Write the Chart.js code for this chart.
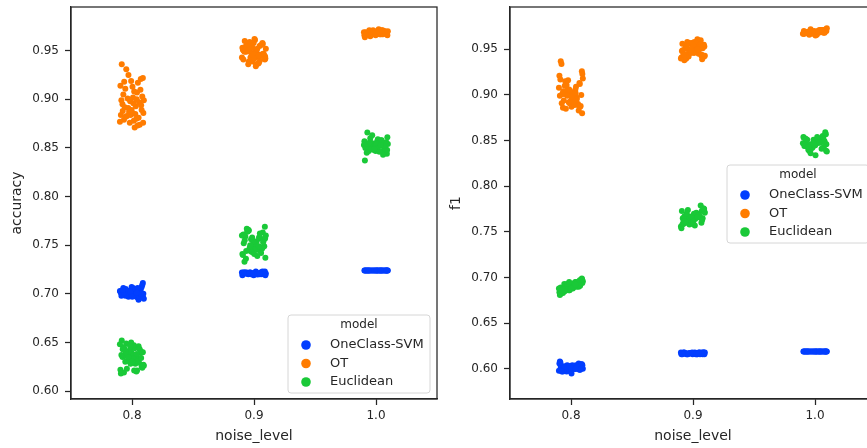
<!DOCTYPE html>
<html>
<head>
<meta charset="utf-8">
<script src="https://cdn.jsdelivr.net/npm/chart.js@4.4.1/dist/chart.umd.min.js"></script>
<style>
  html, body { margin: 0; padding: 0; background: #fff; overflow: hidden; }
  #wrap { position: relative; width: 867px; height: 448px; overflow: hidden; }
  canvas { position: absolute; top: 0; }
  #accChart { left: 0; }
  #f1Chart { left: 439px; }
</style>
</head>
<body>
<div id="wrap">
  <canvas id="accChart" width="440" height="448"></canvas>
  <canvas id="f1Chart" width="440" height="448"></canvas>
</div>
<script>
// categories / legend
const noiseLevels = ['0.8', '0.9', '1.0'];
const models = ['OneClass-SVM', 'OT', 'Euclidean'];
const modelColors = ['#023eff', '#ff7c00', '#1ac938'];
const yTicks = [0.60, 0.65, 0.70, 0.75, 0.80, 0.85, 0.90, 0.95];

// strip-plot jitter (x offset of the i-th run inside its category)
const jitter = [-0.084, 0.031, 0.072, -0.012, -0.095, 0.054, 0.008, -0.047, 0.089, -0.066,
                0.022, -0.029, 0.097, -0.003, 0.041, -0.078, 0.063, -0.055, 0.015, -0.091,
                0.079, -0.036, 0.048, -0.018, 0.093, -0.071, 0.004, 0.036, -0.059, 0.084,
                -0.024, 0.058, -0.099, 0.011, -0.042, 0.069, -0.007, 0.027, -0.087, 0.046,
                -0.064, 0.091, -0.031, 0.018, -0.051, 0.075, -0.015, 0.002, -0.076, 0.038];

// accuracy, one list per noise level (0.8, 0.9, 1.0)
const accSvm = [
  [0.703,0.700,0.705,0.698,0.702,0.694,0.706,0.701,0.711,0.699,0.704,0.697,0.695,0.707,0.702,0.700,0.703,0.698,0.705,0.701,0.707,0.699,0.696,0.703,0.700,0.706,0.702,0.697,0.704,0.709,0.701,0.698,0.703,0.705,0.699,0.702,0.700,0.704,0.698,0.706,0.701,0.696,0.703,0.699,0.705,0.700,0.702,0.697,0.704,0.701],
  [0.721,0.720,0.722,0.721,0.719,0.722,0.721,0.720,0.723,0.721,0.720,0.722,0.721,0.719,0.721,0.722,0.720,0.721,0.723,0.720,0.721,0.722,0.720,0.721,0.719,0.722,0.721,0.720,0.722,0.721,0.720,0.721,0.722,0.720,0.721,0.723,0.721,0.720,0.722,0.721],
  [0.724,0.724,0.724,0.724,0.724,0.724,0.724,0.724,0.724,0.724,0.724,0.724,0.724,0.724,0.724,0.724,0.724,0.724,0.724,0.724,0.724,0.724,0.724,0.724,0.724,0.724,0.724,0.724,0.724,0.724]
];
const accOt = [
  [0.936,0.893,0.921,0.884,0.914,0.881,0.902,0.931,0.922,0.879,0.871,0.925,0.899,0.889,0.907,0.895,0.874,0.911,0.878,0.884,0.889,0.901,0.917,0.876,0.886,0.905,0.913,0.880,0.892,0.903,0.887,0.897,0.877,0.896,0.883,0.910,0.919,0.885,0.899,0.873,0.918,0.876,0.891,0.908,0.882,0.894,0.898,0.886,0.888,0.900],
  [0.950,0.944,0.957,0.939,0.953,0.946,0.961,0.936,0.941,0.955,0.948,0.943,0.952,0.958,0.938,0.949,0.945,0.956,0.934,0.951,0.947,0.959,0.940,0.954,0.942,0.950,0.962,0.937,0.953,0.945,0.948,0.956,0.943,0.951,0.939,0.958,0.946,0.952,0.941,0.955,0.949,0.944,0.957,0.936,0.950,0.947,0.953,0.942,0.960,0.945],
  [0.969,0.967,0.970,0.968,0.966,0.971,0.968,0.965,0.969,0.967,0.972,0.968,0.970,0.966,0.969,0.967,0.968,0.971,0.969,0.964,0.968,0.970,0.967,0.969,0.966,0.968,0.970,0.967,0.969,0.968,0.971,0.967,0.969,0.968,0.966,0.970,0.968,0.969,0.967,0.971]
];
const accEuc = [
  [0.652,0.633,0.641,0.628,0.622,0.646,0.637,0.649,0.640,0.619,0.644,0.631,0.626,0.639,0.621,0.635,0.643,0.630,0.647,0.618,0.625,0.638,0.634,0.642,0.627,0.645,0.632,0.620,0.636,0.624,0.641,0.629,0.648,0.633,0.623,0.639,0.650,0.628,0.637,0.631,0.644,0.626,0.635,0.621,0.640,0.634,0.646,0.630,0.643,0.638],
  [0.752,0.748,0.763,0.745,0.741,0.757,0.750,0.766,0.769,0.736,0.754,0.744,0.760,0.749,0.758,0.733,0.746,0.764,0.751,0.740,0.755,0.747,0.762,0.743,0.737,0.759,0.753,0.745,0.767,0.749,0.756,0.742,0.760,0.751,0.765,0.747,0.754,0.739,0.761,0.748,0.744,0.757,0.750,0.746,0.764,0.753,0.758,0.741,0.755,0.749],
  [0.851,0.855,0.848,0.853,0.857,0.846,0.852,0.860,0.844,0.849,0.856,0.850,0.854,0.847,0.858,0.853,0.845,0.851,0.859,0.837,0.849,0.855,0.852,0.848,0.861,0.866,0.850,0.854,0.847,0.856,0.851,0.843,0.853,0.857,0.849,0.855,0.852,0.846,0.850,0.858,0.854,0.848,0.863,0.851,0.856,0.852,0.849,0.855,0.845,0.853]
];

// f1, one list per noise level (0.8, 0.9, 1.0)
const f1Svm = [
  [0.602,0.600,0.604,0.598,0.606,0.601,0.603,0.599,0.605,0.597,0.601,0.603,0.600,0.598,0.604,0.602,0.606,0.599,0.601,0.608,0.603,0.597,0.600,0.602,0.604,0.599,0.595,0.601,0.603,0.605,0.600,0.602,0.598,0.604,0.601,0.599,0.603,0.600,0.607,0.602,0.598,0.601,0.604,0.600,0.602,0.599,0.603,0.601,0.597,0.600],
  [0.617,0.616,0.618,0.617,0.616,0.618,0.617,0.616,0.618,0.617,0.616,0.617,0.618,0.616,0.617,0.618,0.617,0.616,0.618,0.617,0.616,0.617,0.618,0.617,0.616,0.618,0.617,0.616,0.617,0.618,0.617,0.616,0.618,0.617,0.616,0.617,0.618,0.617,0.616,0.617],
  [0.619,0.619,0.619,0.619,0.619,0.619,0.619,0.619,0.619,0.619,0.619,0.619,0.619,0.619,0.619,0.619,0.619,0.619,0.619,0.619,0.619,0.619,0.619,0.619,0.619,0.619,0.619,0.619,0.619,0.619]
];
const f1Ot = [
  [0.937,0.897,0.912,0.891,0.921,0.889,0.903,0.915,0.926,0.886,0.898,0.905,0.918,0.893,0.909,0.934,0.883,0.901,0.895,0.899,0.888,0.911,0.897,0.892,0.923,0.901,0.887,0.906,0.894,0.900,0.916,0.890,0.908,0.896,0.885,0.913,0.902,0.889,0.917,0.895,0.904,0.880,0.899,0.893,0.910,0.887,0.906,0.898,0.891,0.902],
  [0.949,0.953,0.944,0.957,0.941,0.950,0.946,0.958,0.955,0.939,0.952,0.947,0.943,0.956,0.950,0.945,0.960,0.940,0.954,0.948,0.951,0.942,0.957,0.946,0.953,0.938,0.949,0.961,0.944,0.955,0.947,0.952,0.940,0.958,0.950,0.943,0.954,0.948,0.956,0.945,0.951,0.942,0.957,0.947,0.953,0.939,0.949,0.955,0.944,0.950],
  [0.969,0.968,0.971,0.969,0.967,0.970,0.969,0.966,0.972,0.968,0.970,0.969,0.973,0.967,0.970,0.968,0.971,0.969,0.966,0.970,0.968,0.972,0.969,0.967,0.970,0.968,0.965,0.971,0.969,0.970,0.968,0.971,0.967,0.969,0.970,0.968,0.970,0.969,0.967,0.971]
];
const f1Euc = [
  [0.689,0.692,0.697,0.686,0.684,0.694,0.690,0.688,0.699,0.683,0.693,0.687,0.696,0.691,0.695,0.685,0.690,0.693,0.688,0.681,0.697,0.689,0.692,0.686,0.694,0.684,0.691,0.695,0.687,0.698,0.690,0.693,0.688,0.692,0.689,0.696,0.691,0.694,0.682,0.690,0.687,0.698,0.693,0.689,0.685,0.691,0.695,0.688,0.686,0.692],
  [0.765,0.769,0.773,0.762,0.754,0.767,0.770,0.760,0.775,0.764,0.768,0.758,0.771,0.763,0.766,0.761,0.779,0.769,0.757,0.773,0.765,0.762,0.768,0.759,0.772,0.767,0.764,0.770,0.761,0.776,0.763,0.766,0.756,0.769,0.774,0.760,0.765,0.771,0.758,0.768,0.762,0.775,0.766,0.764,0.770,0.763,0.767,0.761,0.759,0.766],
  [0.846,0.849,0.843,0.851,0.854,0.841,0.847,0.839,0.857,0.845,0.850,0.842,0.838,0.848,0.852,0.844,0.855,0.840,0.847,0.853,0.849,0.836,0.851,0.843,0.846,0.850,0.834,0.848,0.845,0.859,0.842,0.853,0.847,0.849,0.841,0.852,0.845,0.850,0.844,0.848,0.851,0.839,0.846,0.854,0.843,0.849,0.847,0.845,0.852,0.848]
];

const TEXT = '#262626';
const FONT = 'DejaVu Sans';

// points of one model: x = category index + jitter
function stripPoints(perLevel) {
    let pts = [];
    perLevel.forEach((vals, ci) => {
        vals.forEach((v, i) => pts.push({ x: ci + jitter[i], y: v }));
    });
    return pts;
}

// frame round the axes + legend box inside the plot
const framePlugin = {
    id: 'frameAndLegend',
    afterDraw(chart, args, opts) {
        const ctx = chart.ctx;
        const a = chart.chartArea;
        ctx.save();
        ctx.strokeStyle = TEXT;
        ctx.lineWidth = 1.25;
        ctx.strokeRect(a.left, a.top, a.right - a.left, a.bottom - a.top);

        // legend
        const bx = a.left + opts.x, by = a.top + opts.y;
        ctx.beginPath();
        ctx.roundRect(bx, by, 142, 78, 3);
        ctx.fillStyle = 'rgba(255,255,255,0.85)';
        ctx.fill();
        ctx.strokeStyle = '#d6d6d6';
        ctx.lineWidth = 1;
        ctx.stroke();

        ctx.fillStyle = TEXT;
        ctx.textBaseline = 'middle';
        ctx.textAlign = 'center';
        ctx.font = '12px "' + FONT + '"';
        ctx.fillText('model', bx + 71, by + 9.5);
        ctx.textAlign = 'left';
        ctx.font = '13px "' + FONT + '"';
        models.forEach((m, k) => {
            const ry = by + 30 + k * 18.5;
            ctx.beginPath();
            ctx.arc(bx + 18, ry, 4.8, 0, Math.PI * 2);
            ctx.fillStyle = modelColors[k];
            ctx.fill();
            ctx.fillStyle = TEXT;
            ctx.fillText(m, bx + 42, ry);
        });
        ctx.restore();
    }
};

function makeChart(canvasId, yLabel, series, yMin, yMax, legendY) {
    const datasets = models.map((m, k) => ({
        label: m,
        data: stripPoints(series[k]),
        backgroundColor: modelColors[k],
        borderWidth: 0,
        pointRadius: 3,
        pointHoverRadius: 3
    }));

    return new Chart(document.getElementById(canvasId), {
        type: 'scatter',
        data: { datasets: datasets },
        options: {
            responsive: false,
            animation: false,
            layout: { padding: { top: 7, right: 3, left: 0, bottom: 0 } },
            plugins: {
                legend: { display: false },
                tooltip: { enabled: false },
                frameAndLegend: { x: 217, y: legendY }
            },
            scales: {
                x: {
                    type: 'linear',
                    min: -0.5,
                    max: 2.5,
                    afterBuildTicks: (s) => { s.ticks = noiseLevels.map((c, i) => ({ value: i })); },
                    afterFit: (s) => { s.height = 49; s.paddingLeft = 0; s.paddingRight = 0; },
                    ticks: {
                        callback: (v) => noiseLevels[v],
                        color: TEXT,
                        font: { family: FONT, size: 12 },
                        padding: 4,
                        maxRotation: 0
                    },
                    grid: { drawOnChartArea: false, drawTicks: true, tickLength: 6, tickColor: TEXT, tickWidth: 1.25 },
                    border: { display: true, color: TEXT, width: 1.25 },
                    title: {
                        display: true,
                        text: 'noise_level',
                        color: TEXT,
                        font: { family: FONT, size: 14 },
                        padding: { top: 0, bottom: 3.5 }
                    }
                },
                y: {
                    type: 'linear',
                    min: yMin,
                    max: yMax,
                    afterBuildTicks: (s) => { s.ticks = yTicks.map(v => ({ value: v })); },
                    afterFit: (s) => { s.width = 71; s.paddingTop = 0; s.paddingBottom = 0; },
                    ticks: {
                        callback: (v) => v.toFixed(2),
                        color: TEXT,
                        font: { family: FONT, size: 12 },
                        padding: 6
                    },
                    grid: { drawOnChartArea: false, drawTicks: true, tickLength: 6, tickColor: TEXT, tickWidth: 1.25 },
                    border: { display: true, color: TEXT, width: 1.25 },
                    title: {
                        display: true,
                        text: yLabel,
                        color: TEXT,
                        font: { family: FONT, size: 14 },
                        padding: { top: 9, bottom: 0 }
                    }
                }
            }
        },
        plugins: [framePlugin]
    });
}

makeChart('accChart', 'accuracy', [accSvm, accOt, accEuc], 0.5918, 0.995, 308);
makeChart('f1Chart', 'f1', [f1Svm, f1Ot, f1Euc], 0.567, 0.9963, 158);
</script>
</body>
</html>
